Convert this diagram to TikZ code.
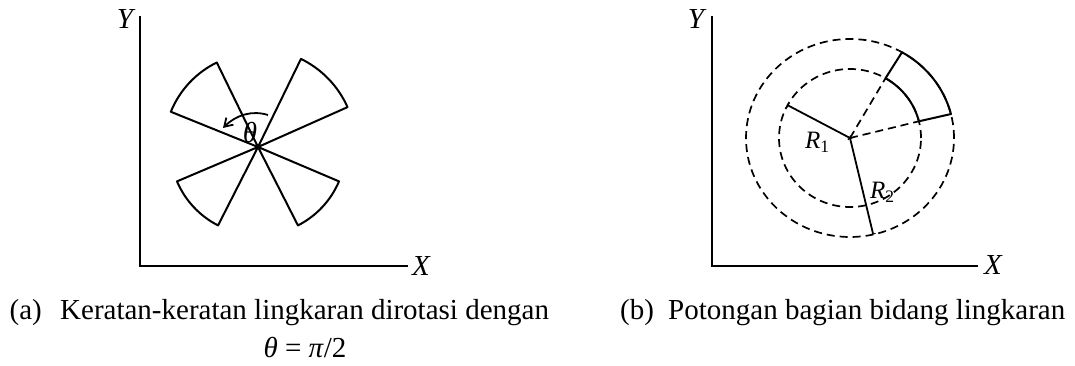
\documentclass[tikz,border=0pt]{standalone}
\usepackage{fontspec}
\setmainfont{Liberation Serif}
\usetikzlibrary{arrows.meta}
\begin{document}
\begin{tikzpicture}[x=1pt,y=1pt,
  axis/.style={line width=2pt},
  solidln/.style={line width=2pt,line join=round},
  dsh/.style={line width=1.7pt,dash pattern=on 8pt off 5pt},
  lbl/.style={font=\fontsize{29}{34}\selectfont\itshape,inner sep=0pt},
  rlbl/.style={font=\fontsize{25}{30}\selectfont\itshape,inner sep=0pt,anchor=base west},
  captxt/.style={font=\fontsize{29}{34}\selectfont,inner sep=0pt,anchor=base west}]
\useasboundingbox (0,0) rectangle (1075,366);
% ---------- panel (a)
\coordinate (oA) at (140,100);
\coordinate (yA) at (140,350);
\coordinate (xA) at (408,100);
\draw[axis] (yA) -- (oA) -- (xA);
\node[lbl] (YA) at (125,347) {Y};
\node[lbl] (XA) at (421,100) {X};
\coordinate (F) at (258,219);
\foreach \a/\b/\r in {24/64/98, 116/158/94, 203/243/88, 297/337/88}{
  \draw[solidln] (F) -- +(\a:\r pt) arc[start angle=\a,end angle=\b,radius=\r pt] -- cycle;
}
\coordinate (t1) at (268,251);
\coordinate (t2) at (223,238);
\draw[line width=1.8pt,-{Straight Barb[length=8pt,width=10pt]}] (t1) .. controls (252,256) and (236,251) .. (t2);
\node[lbl] (th) at (250,233) {θ};
% ---------- panel (b)
\coordinate (oB) at (712,100);
\coordinate (yB) at (712,350);
\coordinate (xB) at (978,100);
\draw[axis] (yB) -- (oB) -- (xB);
\node[lbl] (YB) at (696,347) {Y};
\node[lbl] (XB) at (993,101) {X};
\coordinate (C) at (850,228);
\draw[dsh] (C) ellipse[x radius=104, y radius=99];
\draw[dsh] (C) ellipse[x radius=71, y radius=69];
\path (C) +(60:71pt and 69pt) coordinate (i1)
          +(14:71pt and 69pt) coordinate (i2)
          +(60:104pt and 99pt) coordinate (o1)
          +(14:104pt and 99pt) coordinate (o2)
          +(151.6:71pt and 69pt) coordinate (r1)
          +(-77.1:104pt and 99pt) coordinate (r2);
\draw[dsh] (C) -- (i1);
\draw[dsh] (C) -- (i2);
\draw[solidln] (i1) -- (o1) arc[start angle=60,end angle=14,x radius=104pt,y radius=99pt] -- (i2);
\draw[solidln] (i2) arc[start angle=14,end angle=60,x radius=71pt,y radius=69pt];
\draw[line width=1.8pt,{Bar[width=5pt,line width=1pt]}-{Bar[width=5pt,line width=1pt]}] (C) -- (r1);
\draw[line width=1.8pt,{Bar[width=5pt,line width=1pt]}-{Bar[width=5pt,line width=1pt]}] (C) -- (r2);
\node[rlbl] (R1) at (805,217) {R\textup{\textsubscript{1}}};
\node[rlbl] (R2) at (870,167) {R\textup{\textsubscript{2}}};
% ---------- captions
\node[captxt,anchor=base east] (capa0) at (42,46) {(a)};
\node[captxt] (capa) at (60,46) {Keratan-keratan lingkaran dirotasi dengan};
\node[captxt,anchor=base] (capa2) at (305,8) {\textit{θ} = \textit{π}/2};
\node[captxt] (capb0) at (620,46) {(b)};
\node[captxt] (capb) at (668,46) {Potongan bagian bidang lingkaran};
\end{tikzpicture}
\end{document}
